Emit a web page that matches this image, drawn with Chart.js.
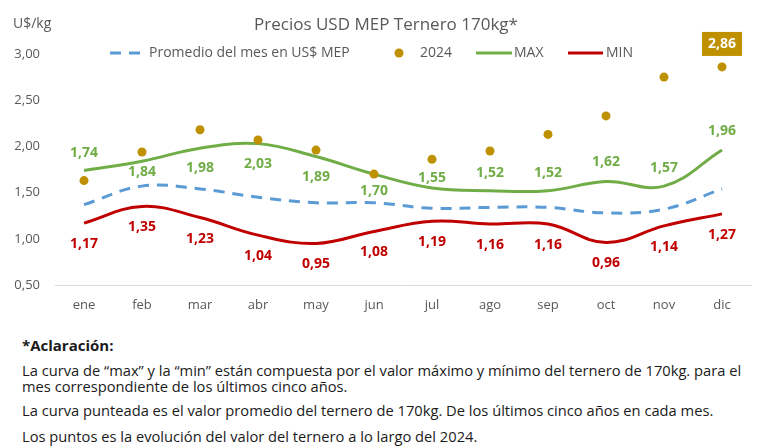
<!DOCTYPE html>
<html>
<head>
<meta charset="utf-8">
<script src="https://cdn.jsdelivr.net/npm/chart.js@4.4.1/dist/chart.umd.min.js"></script>
<style>
  body { margin: 0; background: #fff; font-family: "Open Sans", sans-serif; }
  #wrap { position: relative; width: 766px; height: 448px; overflow: hidden; }
  #out { position: absolute; left: 0; top: 0; }
  .note { position: absolute; left: 22px; font-size: 14.7px; color: #1b1b1b; white-space: nowrap; line-height: 16px; }
  .note b { font-size: 15px; }
</style>
</head>
<body>
<div id="wrap">
  <canvas id="out" width="766" height="330"></canvas>
  <div class="note" style="top:337px"><b>*Aclaración:</b></div>
  <div class="note" style="top:362px">La curva de “max” y la “min” están compuesta por el valor máximo y mínimo del ternero de 170kg. para el<br>mes correspondiente de los últimos cinco años.</div>
  <div class="note" style="top:402px">La curva punteada es el valor promedio del ternero de 170kg. De los últimos cinco años en cada mes.</div>
  <div class="note" style="top:428px">Los puntos es la evolución del valor del ternero a lo largo del 2024.</div>
</div>
<script>
const months = ["ene", "feb", "mar", "abr", "may", "jun", "jul", "ago", "sep", "oct", "nov", "dic"];
const promedio = [1.37, 1.57, 1.54, 1.45, 1.39, 1.39, 1.33, 1.34, 1.34, 1.28, 1.32, 1.54];
const valores2024 = [1.63, 1.94, 2.18, 2.07, 1.96, 1.70, 1.86, 1.95, 2.13, 2.33, 2.75, 2.86];
const maxValues = [1.74, 1.84, 1.98, 2.03, 1.89, 1.70, 1.55, 1.52, 1.52, 1.62, 1.57, 1.96];
const minValues = [1.17, 1.35, 1.23, 1.04, 0.95, 1.08, 1.19, 1.16, 1.16, 0.96, 1.14, 1.27];
const yMin = 0.5, yMax = 3.0, yStep = 0.5;

// label offsets (px) from the point, negative = above
const maxLabelOffset = [-17, 11, 20, 20, 20, 17, -10, -18, -18, -19, -18, -19];
const minLabelOffset = 21;

const GREEN = "#70AD47", RED = "#C00000", BLUE = "#5B9BD5", GOLD = "#BF9000", GRAY = "#595959";
const fmt = v => v.toFixed(2).replace(".", ",");

Chart.defaults.font.family = "'Open Sans', sans-serif";

const decorations = {
    id: "decorations",
    afterDatasetsDraw(chart) {
        const ctx = chart.ctx;
        ctx.save();
        ctx.font = "bold 14px 'Open Sans'";
        ctx.textAlign = "center";
        ctx.textBaseline = "middle";

        const maxMeta = chart.getDatasetMeta(2);
        maxMeta.data.forEach((pt, i) => {
            ctx.fillStyle = GREEN;
            ctx.fillText(fmt(maxValues[i]), pt.x, pt.y + maxLabelOffset[i]);
        });
        const minMeta = chart.getDatasetMeta(3);
        minMeta.data.forEach((pt, i) => {
            ctx.fillStyle = RED;
            ctx.fillText(fmt(minValues[i]), pt.x, pt.y + minLabelOffset);
        });

        // last 2024 value in a box
        const dots = chart.getDatasetMeta(1).data;
        const last = dots[dots.length - 1];
        const txt = fmt(valores2024[valores2024.length - 1]);
        const w = ctx.measureText(txt).width + 12;
        ctx.fillStyle = GOLD;
        ctx.fillRect(last.x - w / 2, last.y - 35, w, 24);
        ctx.fillStyle = "#fff";
        ctx.fillText(txt, last.x, last.y - 23);
        ctx.restore();
    },
    afterDraw(chart) {
        const ctx = chart.ctx;
        ctx.save();
        ctx.textBaseline = "middle";
        ctx.fillStyle = GRAY;
        ctx.font = "17px 'Open Sans'";
        ctx.textAlign = "center";
        ctx.fillText("Precios USD MEP Ternero 170kg*", 386, 25);
        ctx.font = "14px 'Open Sans'";
        ctx.textAlign = "left";
        ctx.fillText("U$/kg", 13, 24);

        // legend
        const ly = 53;
        ctx.lineWidth = 3;
        ctx.strokeStyle = BLUE;
        ctx.setLineDash([11, 8]);
        ctx.beginPath(); ctx.moveTo(110, ly); ctx.lineTo(143, ly); ctx.stroke();
        ctx.setLineDash([]);
        ctx.fillStyle = GRAY;
        ctx.fillText("Promedio del mes en US$ MEP", 149, ly);

        ctx.fillStyle = GOLD;
        ctx.beginPath(); ctx.arc(399, ly, 4.5, 0, Math.PI * 2); ctx.fill();
        ctx.fillStyle = GRAY;
        ctx.fillText("2024", 420, ly);

        ctx.strokeStyle = GREEN;
        ctx.beginPath(); ctx.moveTo(476, ly); ctx.lineTo(512, ly); ctx.stroke();
        ctx.fillText("MAX", 514, ly);

        ctx.strokeStyle = RED;
        ctx.beginPath(); ctx.moveTo(568, ly); ctx.lineTo(603, ly); ctx.stroke();
        ctx.fillText("MIN", 606, ly);
        ctx.restore();
    }
};

const chartConfig = {
    type: "line",
    data: {
        labels: months,
        datasets: [
            {
                label: "Promedio del mes en US$ MEP",
                data: promedio,
                borderColor: BLUE,
                borderWidth: 3,
                borderDash: [11, 8],
                pointRadius: 0,
                tension: 0.4,
                order: 3
            },
            {
                label: "2024",
                data: valores2024,
                showLine: false,
                pointRadius: 4.5,
                pointBackgroundColor: GOLD,
                pointBorderWidth: 0,
                order: 0
            },
            {
                label: "MAX",
                data: maxValues,
                borderColor: GREEN,
                borderWidth: 3,
                pointRadius: 0,
                tension: 0.4,
                order: 1
            },
            {
                label: "MIN",
                data: minValues,
                borderColor: RED,
                borderWidth: 3,
                pointRadius: 0,
                tension: 0.4,
                order: 2
            }
        ]
    },
    options: {
        responsive: false,
        animation: false,
        layout: { padding: { top: 54, right: 15, left: 0, bottom: 0 } },
        plugins: { legend: { display: false }, title: { display: false }, tooltip: { enabled: false } },
        scales: {
            x: {
                offset: true,
                grid: { display: false, drawTicks: false },
                border: { color: "#D9D9D9", width: 1 },
                ticks: { color: GRAY, font: { size: 13 }, padding: 12 },
                afterFit(scale) { scale.height = 45; }
            },
            y: {
                min: yMin,
                max: yMax,
                grid: { display: false, drawTicks: false },
                border: { display: false },
                ticks: { stepSize: yStep, color: GRAY, font: { size: 13 }, padding: 15, callback: v => fmt(v) },
                afterFit(scale) { scale.width = 55; }
            }
        }
    },
    plugins: [decorations]
};

window.chart = new Chart(document.getElementById("out").getContext("2d"), chartConfig);
</script>
</body>
</html>
